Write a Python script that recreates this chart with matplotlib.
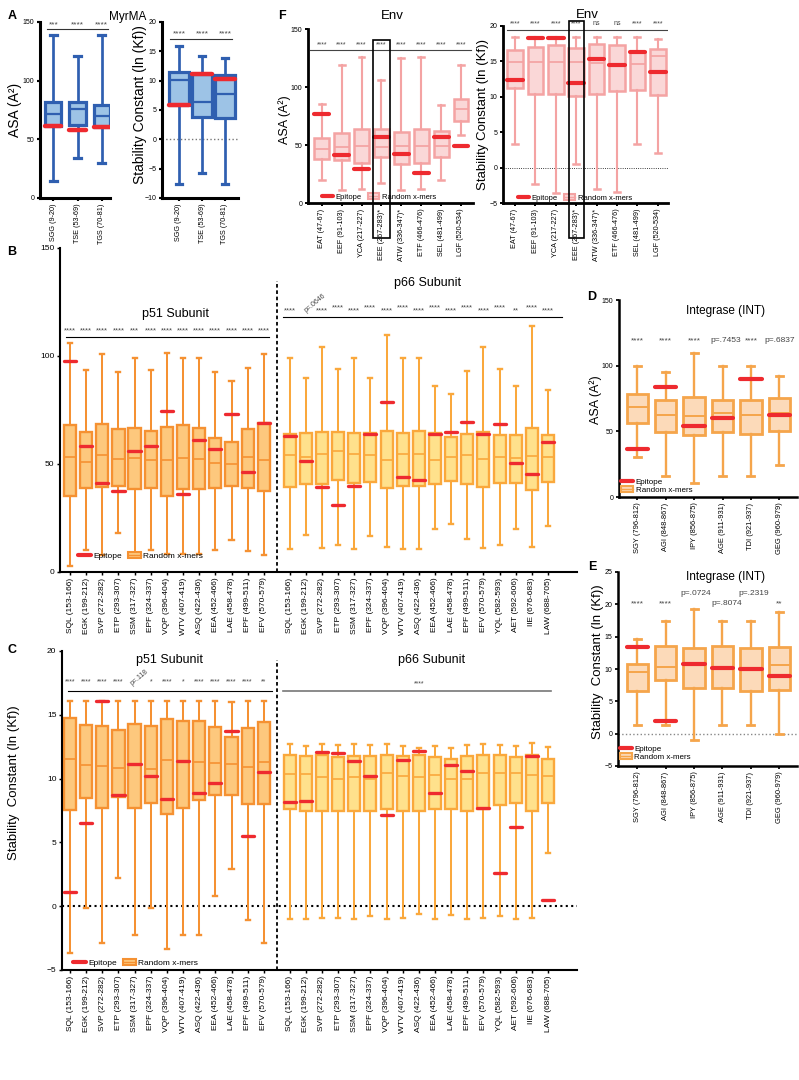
import matplotlib
matplotlib.use('Agg')
import matplotlib.pyplot as plt
from matplotlib.lines import Line2D
from matplotlib.patches import Patch, Rectangle
from matplotlib.transforms import blended_transform_factory

plt.rcParams['font.family'] = ['Liberation Sans', 'DejaVu Sans']

RED = '#EE2A2F'

# ---- A: MyrMA ----
a_names = ['SGG (9-20)', 'TSE (53-69)', 'TGS (70-81)']
a_asa_lo = [14.2, 34.0, 29.7]
a_asa_q1 = [61.7, 62.3, 60.9]
a_asa_med = [71.6, 75.9, 69.9]
a_asa_q3 = [81.5, 81.5, 79.5]
a_asa_hi = [139.3, 121.4, 139.3]
a_asa_epi = [61.7, 58.0, 60.3]
a_asa_sig = ['***', '****', '****']
a_kf_lo = [-7.57, -5.68, -7.57]
a_kf_q1 = [5.9, 3.84, 3.61]
a_kf_med = [10.1, 6.31, 7.69]
a_kf_q3 = [11.42, 11.13, 10.96]
a_kf_hi = [15.95, 14.23, 13.83]
a_kf_epi = [5.9, 11.13, 10.27]
a_kf_sig = ['****', '****', '****']

# ---- F: Env ----
f_names = ['EAT (47-67)', 'EEF (91-103)', 'YCA (217-227)', 'EEE (267-283)*',
           'ATW (336-347)*', 'ETF (466-476)', 'SEL (481-499)', 'LGF (520-534)']
f_asa_lo = [20.2, 11.5, 12.4, 17.3, 11.5, 12.4, 20.2, 58.5]
f_asa_q1 = [38.0, 37.4, 34.6, 39.7, 34.0, 34.6, 39.7, 70.3]
f_asa_med = [46.4, 48.4, 49.2, 48.4, 48.9, 48.9, 49.5, 81.2]
f_asa_q3 = [56.4, 60.5, 63.6, 64.2, 61.3, 63.6, 61.9, 89.5]
f_asa_hi = [85.5, 118.9, 126.1, 105.7, 125.3, 126.1, 84.1, 118.6]
f_asa_epi = [76.6, 41.2, 29.7, 57.0, 42.0, 25.9, 57.0, 49.0]
f_asa_sig = ['****'] * 8
f_kf_lo = [3.29, -2.35, -3.52, 0.47, -2.96, -3.43, 3.29, 2.11]
f_kf_q1 = [11.27, 10.33, 10.42, 10.1, 10.33, 10.8, 10.89, 10.19]
f_kf_med = [14.93, 14.93, 14.93, 14.93, 14.79, 14.65, 14.65, 15.73]
f_kf_q3 = [16.57, 17.0, 17.37, 16.9, 17.46, 17.37, 16.29, 16.76]
f_kf_hi = [18.4, 18.4, 18.4, 18.4, 18.4, 18.4, 18.4, 18.17]
f_kf_epi = [12.39, 18.3, 18.3, 11.92, 15.35, 14.5, 16.29, 13.47]
f_kf_sig = ['****', '****', '****', '****', 'ns', 'ns', '****', '****']

# ---- B / C: RT p51 and p66 ----
p51_names = ['SQL (153-166)', 'EGK (199-212)', 'SVP (272-282)', 'ETP (293-307)',
             'SSM (317-327)', 'EPF (324-337)', 'VQP (396-404)', 'WTV (407-419)',
             'ASQ (422-436)', 'EEA (452-466)', 'LAE (458-478)', 'EPF (499-511)',
             'EFV (570-579)']
p66_names = p51_names + ['YQL (582-593)', 'AET (592-606)', 'IIE (676-683)', 'LAW (688-705)']

b51_lo = [2.6, 10.2, 7.8, 18.2, 8.0, 10.2, 8.5, 8.2, 8.2, 10.2, 15.0, 9.7, 7.8]
b51_q1 = [35.2, 38.8, 39.2, 40.0, 38.2, 39.0, 35.2, 38.2, 38.2, 38.8, 40.0, 39.0, 37.4]
b51_med = [53.2, 50.9, 54.2, 52.3, 52.8, 52.0, 51.7, 52.9, 52.5, 50.5, 50.0, 53.4, 51.7]
b51_q3 = [68.0, 64.9, 68.5, 66.2, 66.8, 65.2, 67.0, 68.0, 66.5, 62.0, 60.0, 66.2, 68.8]
b51_hi = [105.8, 93.7, 101.0, 92.6, 98.9, 93.7, 101.5, 98.9, 98.9, 92.6, 88.2, 94.6, 101.0]
b51_epi = [97.5, 58.5, 41.0, 37.4, 56.0, 58.5, 74.6, 36.2, 61.0, 57.0, 73.2, 46.5, 69.0]
b51_sig = ['****', '****', '****', '****', '***', '****', '****', '****', '****',
           '****', '****', '****', '****']

b66_lo = [10.5, 17.0, 11.0, 12.6, 10.5, 16.6, 11.8, 10.5, 10.5, 19.7, 22.3, 15.4, 11.0,
          12.6, 19.7, 11.4, 21.2]
b66_q1 = [39.5, 40.8, 40.6, 42.6, 41.0, 41.6, 38.7, 39.8, 39.8, 40.8, 42.0, 40.8, 39.5,
          41.0, 41.3, 38.0, 41.8]
b66_med = [54.2, 53.4, 54.8, 55.8, 54.8, 54.2, 51.8, 54.8, 54.8, 51.8, 53.4, 54.2, 52.1,
           53.4, 52.6, 53.7, 53.4]
b66_q3 = [63.9, 64.2, 64.9, 64.6, 64.2, 64.2, 65.4, 64.2, 65.1, 64.2, 62.6, 63.9, 64.6,
          63.6, 63.6, 66.5, 63.4]
b66_hi = [98.9, 90.0, 104.0, 94.0, 98.9, 90.0, 109.7, 98.9, 98.9, 86.1, 82.4, 93.1, 104.0,
          94.0, 86.1, 113.9, 84.2]
b66_epi = [63.0, 51.2, 39.5, 31.2, 39.8, 63.9, 78.7, 44.1, 42.6, 63.9, 65.0, 69.4, 63.9,
           68.4, 50.3, 45.2, 60.3]
b66_sig = ['****', 'p=.0646', '****', '****', '****', '****', '****', '****', '****',
           '****', '****', '****', '****', '****', '**', '****', '****']

c51_lo = [-3.68, -0.18, -2.9, 2.2, -2.24, -0.18, -3.34, -2.24, -2.24, 0.79, 2.9, -1.05, -2.9]
c51_q1 = [7.52, 8.49, 7.7, 8.56, 7.73, 8.12, 7.26, 7.73, 8.3, 8.72, 8.72, 8.04, 7.99]
c51_med = [11.51, 11.07, 11.02, 10.86, 11.12, 10.78, 11.46, 11.4, 11.3, 11.25, 11.17, 10.91, 11.3]
c51_q3 = [14.78, 14.18, 14.13, 13.79, 14.26, 14.1, 14.67, 14.49, 14.49, 14.05, 13.26, 13.94, 14.46]
c51_hi = [16.06, 16.06, 16.06, 16.06, 16.06, 16.06, 16.06, 16.06, 16.06, 16.06, 15.98, 16.06, 16.06]
c51_epi = [1.1, 6.55, 16.06, 8.7, 11.12, 10.23, 8.38, 11.38, 8.85, 9.66, 13.73, 5.54, 10.5]
c51_sig = ['****', '****', '****', '****', 'p=.118', '*', '****', '*', '****', '****',
           '****', '****', '**']

c66_lo = [-1.0, -1.0, -0.9, -0.9, -1.0, -0.8, -1.0, -0.9, -0.6, -1.0, -0.7, -1.0, -0.9,
          -0.8, -1.0, -0.9, 4.2]
c66_q1 = [7.64, 7.48, 7.48, 7.48, 7.48, 7.48, 7.59, 7.48, 7.48, 7.64, 7.59, 7.48, 7.59,
          7.9, 8.11, 7.46, 8.06]
c66_med = [10.38, 10.38, 10.1, 9.97, 10.15, 9.97, 10.46, 10.2, 10.15, 10.28, 9.94, 9.94,
           10.46, 10.46, 10.41, 10.28, 10.2]
c66_q3 = [11.82, 11.77, 11.82, 11.66, 11.77, 11.74, 11.88, 11.77, 11.82, 11.72, 11.51, 11.77,
          11.82, 11.82, 11.72, 11.82, 11.53]
c66_hi = [12.69, 12.58, 12.71, 12.63, 12.69, 12.61, 12.74, 12.56, 12.4, 12.58, 12.37, 12.63,
          12.69, 12.63, 12.58, 12.77, 12.45]
c66_epi = [8.2, 8.28, 12.07, 12.04, 11.38, 10.2, 7.12, 11.48, 12.17, 8.88, 11.04, 10.62,
           7.69, 2.6, 6.23, 11.8, 0.5]

# ---- D / E: Integrase ----
d_names = ['SGY (796-812)', 'AGI (848-867)', 'IPY (856-875)', 'AGE (911-931)',
           'TDI (921-937)', 'GEG (960-979)']
d_lo = [30.4, 15.7, 10.6, 15.7, 15.7, 24.3]
d_q1 = [56.2, 49.2, 47.1, 49.2, 48.1, 49.9]
d_med = [68.9, 62.1, 61.8, 63.8, 62.6, 63.8]
d_q3 = [78.5, 74.0, 76.5, 73.5, 73.5, 75.2]
d_hi = [99.8, 95.3, 110.0, 99.8, 99.8, 92.2]
d_epi = [36.7, 84.1, 54.2, 60.0, 89.7, 62.8]
d_sig = ['****', '****', '****', 'p=.7453', '****', 'p=.6837']

e_lo = [1.39, 1.39, -1.03, 1.39, 1.39, 0.0]
e_q1 = [6.55, 8.25, 7.06, 7.11, 6.55, 6.8]
e_med = [9.54, 10.31, 10.82, 10.2, 10.0, 10.57]
e_q3 = [10.72, 13.5, 13.3, 13.5, 13.3, 13.4]
e_hi = [14.59, 17.42, 19.23, 17.42, 17.42, 18.8]
e_epi = [13.4, 1.9, 10.82, 10.2, 10.0, 8.92]
e_sig = ['****', '****', 'p=.0724', 'p=.8074', 'p=.2319', '**']
e_sig_y = [20.1, 20.1, 21.75, 20.1, 21.75, 20.1]

W, H = 799, 1080
fig = plt.figure(figsize=(W / 100, H / 100), dpi=100)


def px_ax(left, right, top, bottom, x0, step, ylim, yticks, spine_lw, tsize):
    # axes placed by pixel box; x limits chosen so box i sits at x0 + i*step
    ax = fig.add_axes([left / W, 1 - bottom / H, (right - left) / W, (bottom - top) / H])
    ax.set_xlim((left - x0) / step, (right - x0) / step)
    ax.set_ylim(ylim)
    ax.set_yticks(yticks)
    for s in ['top', 'right']:
        ax.spines[s].set_visible(False)
    for s in ['left', 'bottom']:
        ax.spines[s].set_linewidth(spine_lw)
    ax.tick_params(width=spine_lw * 0.7, length=2.5, labelsize=tsize, pad=1.5)
    ax.patch.set_alpha(0)
    return ax


def ftext(x, y, s, **kw):
    fig.text(x / W, 1 - y / H, s, **kw)


def boxes(ax, pos, lo, q1, med, q3, hi, epi, edge, face, width, lw, capw, epi_lw):
    stats = [dict(whislo=a, q1=b, med=c, q3=d, whishi=e)
             for a, b, c, d, e in zip(lo, q1, med, q3, hi)]
    ax.bxp(stats, positions=pos, widths=width, capwidths=capw, patch_artist=True,
           showfliers=False, manage_ticks=False,
           boxprops=dict(facecolor=face, edgecolor=edge, linewidth=lw),
           whiskerprops=dict(color=edge, linewidth=lw * 0.85),
           capprops=dict(color=edge, linewidth=lw),
           medianprops=dict(color=edge, linewidth=lw * 0.7))
    for p, v in zip(pos, epi):
        ax.plot([p - width / 2, p + width / 2], [v, v], color=RED, lw=epi_lw,
                solid_capstyle='round', zorder=6)


def legend(ax, x, y, edge, face, ncol, fs):
    h = [Line2D([], [], color=RED, lw=3, solid_capstyle='round'),
         (Patch(facecolor=face, edgecolor=edge, lw=1.5), Line2D([], [], color=edge, lw=1))]
    ax.legend(h, ['Epitope', 'Random x-mers'], loc='center left',
              bbox_to_anchor=(x / W, 1 - y / H), bbox_transform=fig.transFigure,
              ncol=ncol, frameon=False, fontsize=fs, handlelength=1.5, handleheight=0.8,
              handletextpad=0.3, columnspacing=0.8, borderpad=0, borderaxespad=0,
              labelspacing=0.05)


def sig(ax, xs, ys, labels, fs):
    for x, y, s in zip(xs, ys, labels):
        ax.text(x, y, s, ha='center', va='center', fontsize=fs, color='#444444')


# ---------- Panel A ----------
A_EDGE, A_FACE = '#2F5FB0', '#9DC3E6'
pos3 = [0, 1, 2]
ax = px_ax(40, 110, 22, 198, 53.3, 24.2, (0, 150), [0, 50, 100, 150], 2.2, 5)
boxes(ax, pos3, a_asa_lo, a_asa_q1, a_asa_med, a_asa_q3, a_asa_hi, a_asa_epi,
      A_EDGE, A_FACE, 0.67, 2.3, 0.28, 3.2)
ax.set_xticks(pos3)
ax.set_xticklabels(a_names, rotation=90, fontsize=5.2)
ax.plot([-0.26, 2.26], [143.8, 143.8], color='#333333', lw=0.8)
sig(ax, pos3, [147.7] * 3, a_asa_sig, 6)
ftext(15, 110, 'ASA (A²)', rotation=90, ha='center', va='center', fontsize=10)

ax = px_ax(162, 238, 22, 198, 179, 23, (-10, 20), [-10, -5, 0, 5, 10, 15, 20], 2.2, 5)
ax.axhline(0, color='#777777', ls=':', lw=1)
boxes(ax, pos3, a_kf_lo, a_kf_q1, a_kf_med, a_kf_q3, a_kf_hi, a_kf_epi,
      A_EDGE, A_FACE, 0.85, 2.3, 0.3, 3.2)
ax.set_xticks(pos3)
ax.set_xticklabels(a_names, rotation=90, fontsize=5.2)
ax.plot([-0.39, 2.29], [17.1, 17.1], color='#333333', lw=0.8)
sig(ax, pos3, [17.96] * 3, a_kf_sig, 6)
ftext(140, 105, 'Stability Constant (ln (Kf))', rotation=90, ha='center', va='center', fontsize=10)
ftext(128, 17, 'MyrMA', ha='center', va='center', fontsize=8.5)
ftext(12, 16, 'A', ha='center', va='center', fontsize=9, fontweight='bold')

# ---------- Panel F ----------
F_EDGE, F_FACE = '#F4A3A3', '#FAD7D7'
pos8 = list(range(8))
ax = px_ax(308, 473, 29, 203, 321.7, 19.9, (0, 150), [0, 50, 100, 150], 2, 5)
boxes(ax, pos8, f_asa_lo, f_asa_q1, f_asa_med, f_asa_q3, f_asa_hi, f_asa_epi,
      F_EDGE, F_FACE, 0.75, 1.8, 0.3, 3)
ax.set_xticks(pos8)
ax.set_xticklabels(f_names, rotation=90, fontsize=5.2)
ax.plot([-0.6, 7.5], [131.9, 131.9], color='#444444', lw=0.8)
sig(ax, pos8, [136.2] * 8, f_asa_sig, 5)
tr = blended_transform_factory(ax.transData, fig.transFigure)
fig.add_artist(Rectangle((3 - 0.42, 1 - 238 / H), 0.84, (238 - 40) / H, transform=tr,
                         fill=False, ec='k', lw=1.2))
legend(ax, 322, 197, F_EDGE, F_FACE, 2, 5.5)
ftext(285, 120, 'ASA (A²)', rotation=90, ha='center', va='center', fontsize=9)

ax = px_ax(503, 668, 26, 203, 515, 20.4, (-5, 20), [-5, 0, 5, 10, 15, 20], 2, 5)
ax.axhline(0, color='k', ls=':', lw=0.6)
boxes(ax, pos8, f_kf_lo, f_kf_q1, f_kf_med, f_kf_q3, f_kf_hi, f_kf_epi,
      F_EDGE, F_FACE, 0.77, 1.8, 0.3, 3)
ax.set_xticks(pos8)
ax.set_xticklabels(f_names, rotation=90, fontsize=5.2)
ax.plot([-0.4, 7.5], [19.4, 19.4], color='#444444', lw=0.8)
sig(ax, pos8, [20.3] * 8, f_kf_sig, 5)
tr = blended_transform_factory(ax.transData, fig.transFigure)
fig.add_artist(Rectangle((3 - 0.37, 1 - 238 / H), 0.74, (238 - 21) / H, transform=tr,
                         fill=False, ec='k', lw=1.2))
legend(ax, 518, 198, F_EDGE, F_FACE, 2, 5.5)
ftext(483, 115, 'Stability Constant (ln (Kf))', rotation=90, ha='center', va='center', fontsize=9.5)
ftext(392, 16, 'Env', ha='center', va='center', fontsize=9.5)
ftext(587, 15, 'Env', ha='center', va='center', fontsize=9.5)
ftext(282, 16, 'F', ha='center', va='center', fontsize=9, fontweight='bold')

# ---------- Panels B and C ----------
P51_EDGE, P51_FACE = '#F59132', '#FDC87D'
P66_EDGE, P66_FACE = '#FAA83C', '#FFE18C'
pos51 = list(range(13))
pos66 = [13.6 + j for j in range(17)]
all_names = p51_names + p66_names

ax = px_ax(60, 577, 248, 572, 70, 16.15, (0, 150), [0, 50, 100, 150], 1.5, 6)
boxes(ax, pos51, b51_lo, b51_q1, b51_med, b51_q3, b51_hi, b51_epi,
      P51_EDGE, P51_FACE, 0.76, 1.7, 0.25, 2.4)
boxes(ax, pos66, b66_lo, b66_q1, b66_med, b66_q3, b66_hi, b66_epi,
      P66_EDGE, P66_FACE, 0.74, 1.7, 0.25, 2.4)
ax.set_xticks(pos51 + pos66)
ax.set_xticklabels(all_names, rotation=90, fontsize=6)
ax.plot([12.8, 12.8], [0, 134.7], color='k', ls=(0, (2, 1.5)), lw=1.3)
ax.plot([-0.25, 12.3], [108.8, 108.8], color='k', lw=0.8)
ax.plot([13.19, 30.45], [118, 118], color='k', lw=0.8)
sig(ax, pos51, [111.5] * 13, b51_sig, 5.5)
for j, (p, s) in enumerate(zip(pos66, b66_sig)):
    if s.startswith('p'):
        ax.text(p + 0.55, 124.5, s, ha='center', va='center', fontsize=5, color='#444444',
                rotation=40)
    else:
        ax.text(p, 122.4 if j % 2 else 120.8, s, ha='center', va='center', fontsize=5.5,
                color='#444444')
legend(ax, 78, 556, P51_EDGE, P51_FACE, 2, 6)
ftext(175, 314, 'p51 Subunit', ha='center', va='center', fontsize=9)
ftext(428, 283, 'p66 Subunit', ha='center', va='center', fontsize=9)
ftext(12, 252, 'B', ha='center', va='center', fontsize=9, fontweight='bold')

ax = px_ax(62, 577, 651, 970, 70, 16.15, (-5, 20), [-5, 0, 5, 10, 15, 20], 1.5, 6)
ax.axhline(0, color='k', ls=(0, (1, 1.6)), lw=1.5)
boxes(ax, pos51, c51_lo, c51_q1, c51_med, c51_q3, c51_hi, c51_epi,
      P51_EDGE, P51_FACE, 0.76, 1.7, 0.25, 2.4)
boxes(ax, pos66, c66_lo, c66_q1, c66_med, c66_q3, c66_hi, c66_epi,
      P66_EDGE, P66_FACE, 0.74, 1.7, 0.25, 2.4)
ax.set_xticks(pos51 + pos66)
ax.set_xticklabels(all_names, rotation=90, fontsize=6)
ax.plot([12.8, 12.8], [-5, 19.3], color='k', ls=(0, (2, 1.5)), lw=1.3)
ax.plot([-0.12, 12.5], [16.9, 16.9], color='k', lw=0.8)
ax.plot([13.19, 29.8], [16.9, 16.9], color='#777777', lw=1.2)
for p, s in zip(pos51, c51_sig):
    if s.startswith('p'):
        ax.text(p + 0.3, 17.9, s, ha='center', va='center', fontsize=5, color='#444444',
                rotation=40)
    else:
        ax.text(p, 17.57, s, ha='center', va='center', fontsize=5, color='#444444')
ax.text(21.6, 17.4, '****', ha='center', va='center', fontsize=5, color='#444444')
legend(ax, 73, 963, P51_EDGE, P51_FACE, 2, 6)
ftext(14, 783, 'Stability  Constant (ln (Kf))', rotation=90, ha='center', va='center', fontsize=9.5)
ftext(170, 660, 'p51 Subunit', ha='center', va='center', fontsize=9)
ftext(432, 660, 'p66 Subunit', ha='center', va='center', fontsize=9)
ftext(12, 650, 'C', ha='center', va='center', fontsize=9, fontweight='bold')

# ---------- Panels D and E ----------
I_EDGE, I_FACE = '#F5A54B', '#FCDAB9'
pos6 = list(range(6))
ax = px_ax(619, 797, 300, 497, 637.3, 28.4, (0, 150), [0, 50, 100, 150], 1.8, 5)
boxes(ax, pos6, d_lo, d_q1, d_med, d_q3, d_hi, d_epi,
      I_EDGE, I_FACE, 0.76, 2, 0.25, 3)
ax.set_xticks(pos6)
ax.set_xticklabels(d_names, rotation=90, fontsize=5.4)
sig(ax, [0, 1, 2, 3.1, 4, 5], [119] * 6, d_sig, 6)
legend(ax, 621, 486, I_EDGE, I_FACE, 1, 5.8)
ftext(596, 400, 'ASA (A²)', rotation=90, ha='center', va='center', fontsize=9)
ftext(726, 311, 'Integrase (INT)', ha='center', va='center', fontsize=8.5)
ftext(592, 297, 'D', ha='center', va='center', fontsize=9, fontweight='bold')

ax = px_ax(618, 797, 572, 766, 637.3, 28.4, (-5, 25), [-5, 0, 5, 10, 15, 20, 25], 1.8, 5)
ax.axhline(0, color='#888888', ls=':', lw=1)
boxes(ax, pos6, e_lo, e_q1, e_med, e_q3, e_hi, e_epi,
      I_EDGE, I_FACE, 0.76, 2, 0.25, 3)
ax.set_xticks(pos6)
ax.set_xticklabels(d_names, rotation=90, fontsize=5.4)
sig(ax, [0, 1, 2.05, 3.15, 4.1, 5], e_sig_y, e_sig, 6)
legend(ax, 620, 753, I_EDGE, I_FACE, 1, 5.8)
ftext(598, 662, 'Stability  Constant (ln (Kf))', rotation=90, ha='center', va='center', fontsize=9.5)
ftext(726, 577, 'Integrase (INT)', ha='center', va='center', fontsize=8.5)
ftext(592, 567, 'E', ha='center', va='center', fontsize=9, fontweight='bold')

fig.savefig('out.png', dpi=100)
